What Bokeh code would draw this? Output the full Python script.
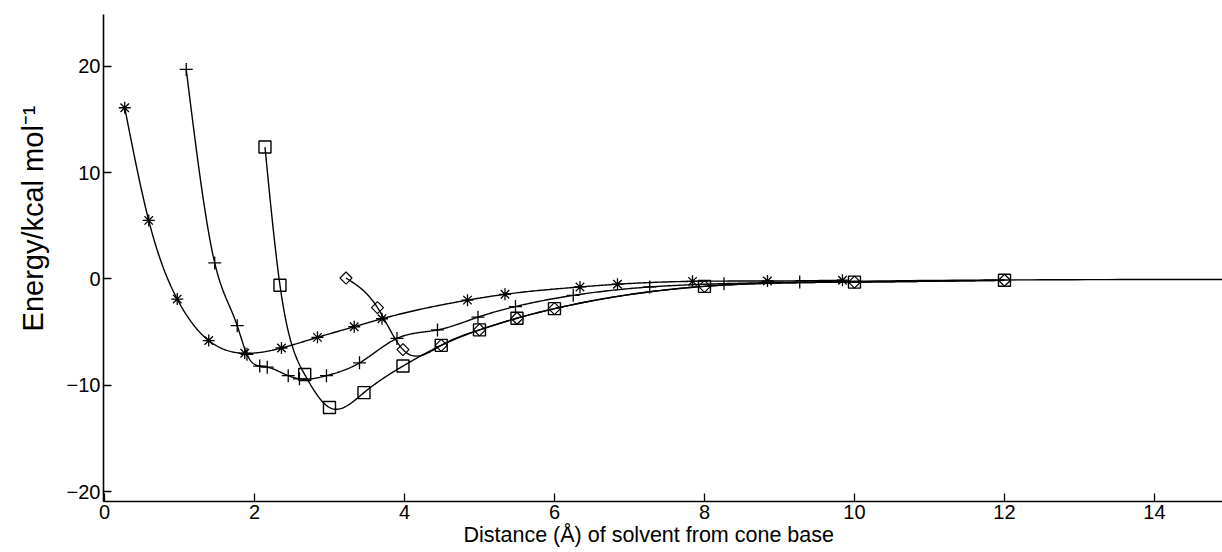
import numpy as np
from bokeh.plotting import figure
from bokeh.models import Range1d, FixedTicker, Title
from bokeh.embed import file_html
from bokeh.resources import INLINE

# ---- data ----
star_x = [0.27, 0.59, 0.97, 1.39, 1.87, 2.36, 2.84, 3.33, 3.70, 4.84, 5.34, 6.34, 6.84, 7.84, 8.84, 9.84]
star_y = [16.1, 5.5, -1.9, -5.8, -7.0, -6.5, -5.5, -4.5, -3.75, -2.0, -1.45, -0.76, -0.5, -0.23, -0.2, -0.13]

plus_x = [1.09, 1.47, 1.77, 1.90, 2.07, 2.17, 2.45, 2.60, 2.96, 3.40, 3.90, 4.44, 4.98, 5.48, 6.25, 7.27, 8.26, 9.27, 15.0]
plus_y = [19.7, 1.5, -4.4, -7.1, -8.2, -8.3, -9.1, -9.4, -9.1, -7.9, -5.6, -4.8, -3.6, -2.6, -1.55, -0.76, -0.45, -0.3, -0.05]

square_x = [2.14, 2.34, 2.67, 3.00, 3.46, 3.98, 4.49, 5.0, 5.5, 6.0, 8.0, 10.0, 12.0]
square_y = [12.4, -0.6, -9.0, -12.1, -10.7, -8.2, -6.25, -4.8, -3.7, -2.8, -0.7, -0.3, -0.13]

diamond_x = [3.22, 3.64, 3.98, 4.49, 5.0, 5.5, 6.0, 8.0, 10.0, 12.0]
diamond_y = [0.08, -2.7, -6.65, -6.25, -4.8, -3.7, -2.8, -0.7, -0.3, -0.13]

x_ticks = [0, 2, 4, 6, 8, 10, 12, 14]
y_ticks = [-20, -10, 0, 10, 20]
x_title = "Distance (Å) of solvent from cone base"
y_title = "Energy/kcal mol⁻¹"

FONT = "Liberation Sans"


def natural_spline(xs, ys, per_seg=40):
    """Smooth connecting curve (natural cubic spline) through the data points."""
    x = np.asarray(xs, float)
    y = np.asarray(ys, float)
    n = len(x)
    h = np.diff(x)
    A = np.zeros((n, n))
    r = np.zeros(n)
    A[0, 0] = 1.0
    A[-1, -1] = 1.0
    for i in range(1, n - 1):
        A[i, i - 1] = h[i - 1]
        A[i, i] = 2 * (h[i - 1] + h[i])
        A[i, i + 1] = h[i]
        r[i] = 6 * ((y[i + 1] - y[i]) / h[i] - (y[i] - y[i - 1]) / h[i - 1])
    M = np.linalg.solve(A, r)
    out_x, out_y = [], []
    for i in range(n - 1):
        t = np.linspace(x[i], x[i + 1], per_seg, endpoint=(i == n - 2))
        a = x[i + 1] - t
        b = t - x[i]
        s = (M[i] * a ** 3 + M[i + 1] * b ** 3) / (6 * h[i]) \
            + (y[i] / h[i] - M[i] * h[i] / 6) * a \
            + (y[i + 1] / h[i] - M[i + 1] * h[i] / 6) * b
        out_x.extend(t.tolist())
        out_y.extend(s.tolist())
    return out_x, out_y


p = figure(width=1222, height=552, output_backend="svg", toolbar_location=None,
           x_range=Range1d(-0.013, -0.013 + 1119 / 75.0),
           y_range=Range1d(-20.94, 24.87),
           min_border_left=103, min_border_right=0, min_border_top=14, min_border_bottom=51)
p.outline_line_color = None
p.xgrid.visible = False
p.ygrid.visible = False
p.background_fill_color = "white"
p.border_fill_color = "white"

for ax in (p.xaxis[0], p.yaxis[0]):
    ax.axis_line_color = "black"
    ax.axis_line_width = 1.6
    ax.major_tick_line_color = "black"
    ax.major_tick_line_width = 1.3
    ax.major_tick_in = 8
    ax.major_tick_out = 0
    ax.minor_tick_line_color = None
    ax.major_label_text_font = FONT
    ax.major_label_text_font_size = "20px"
    ax.major_label_text_color = "black"

p.xaxis.ticker = FixedTicker(ticks=x_ticks)
p.yaxis.ticker = FixedTicker(ticks=y_ticks)
p.yaxis.major_label_overrides = {t: (("\u2212" + str(-t)) if t < 0 else str(t)) for t in y_ticks}
p.xaxis.major_label_standoff = 3
p.yaxis.major_label_standoff = 3

# axis titles placed as side titles so they can sit off-centre like the reference
p.add_layout(Title(text=x_title, align="left", offset=360, vertical_align="top", standoff=3,
                   text_font=FONT, text_font_size="21.5px", text_font_style="normal",
                   text_color="black"), "below")
p.add_layout(Title(text=y_title, align="right", offset=91, vertical_align="top", standoff=26,
                   text_font=FONT, text_font_size="29px", text_font_style="normal",
                   text_color="black"), "left")

LW = 1.4
for xs, ys in ((star_x, star_y), (plus_x, plus_y), (square_x, square_y), (diamond_x, diamond_y)):
    cx, cy = natural_spline(xs, ys)
    p.line(cx, cy, line_color="black", line_width=LW)

p.scatter(star_x, star_y, marker="asterisk", size=12, line_color="black", line_width=1.3)
p.scatter(plus_x, plus_y, marker="cross", size=13, line_color="black", line_width=1.3)
p.scatter(square_x, square_y, marker="square", size=12, line_color="black", fill_color=None, line_width=1.4)
p.scatter(diamond_x, diamond_y, marker="square", angle=np.pi / 4, size=8.5,
          line_color="black", fill_color=None, line_width=1.2)

open("out.html", "w").write(file_html(p, INLINE))
